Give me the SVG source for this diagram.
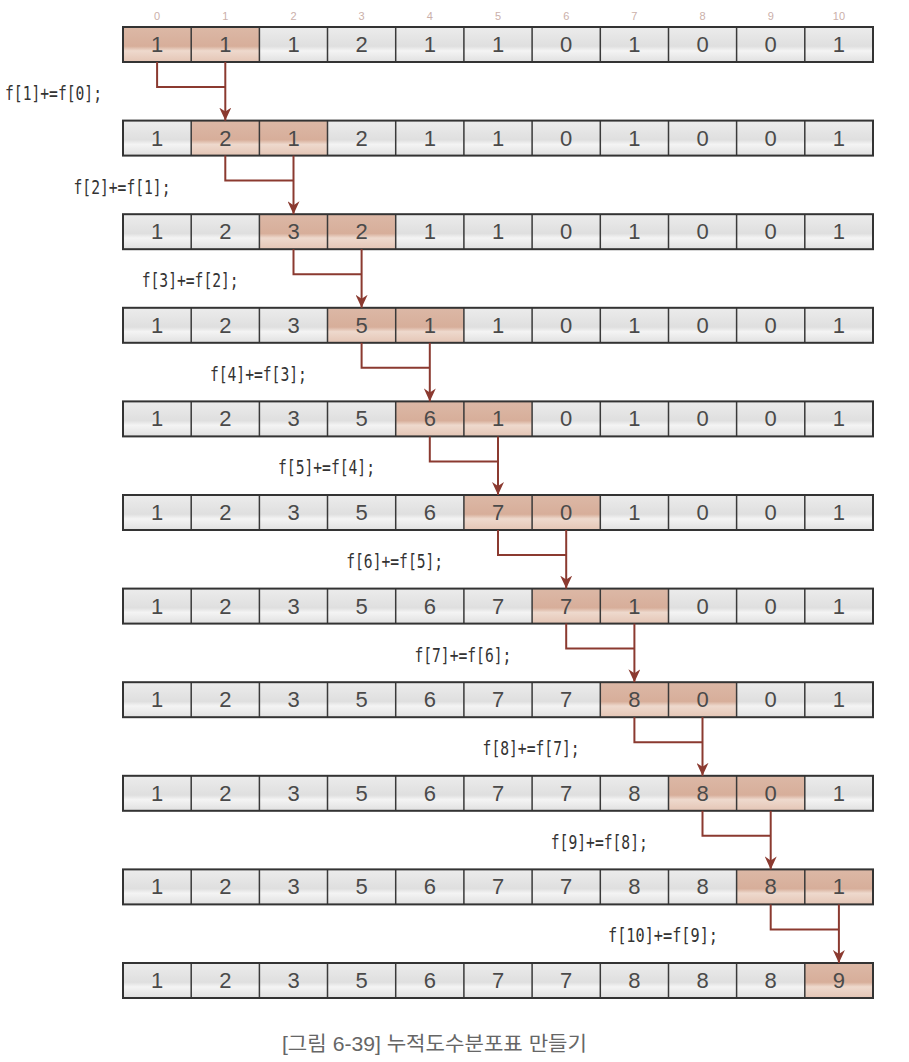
<svg xmlns="http://www.w3.org/2000/svg" width="909" height="1062" viewBox="0 0 909 1062">
<defs>
<linearGradient id="gG" x1="0" y1="0" x2="0" y2="1">
<stop offset="0" stop-color="#ececec"/><stop offset="0.55" stop-color="#dfdfdf"/><stop offset="0.68" stop-color="#f4f4f4"/><stop offset="1" stop-color="#e0e0e0"/>
</linearGradient>
<linearGradient id="gH" x1="0" y1="0" x2="0" y2="1">
<stop offset="0" stop-color="#dcb8a6"/><stop offset="0.55" stop-color="#d7ae9a"/><stop offset="0.68" stop-color="#eed9cd"/><stop offset="1" stop-color="#e4c5b5"/>
</linearGradient>
<marker id="ah" markerWidth="14" markerHeight="12" refX="13" refY="6" orient="auto" markerUnits="userSpaceOnUse" viewBox="0 0 14 12">
<path d="M0,0 L13,6 L0,12 L4,6 Z" fill="#8b3a30"/>
</marker>
</defs>
<style>
.g{fill:url(#gG)}
.h{fill:url(#gH)}
.fr{fill:none;stroke:#333;stroke-width:2}
.dv{stroke:#3a3a3a;stroke-width:1.5}
.n{font-family:"Liberation Sans",Arial,sans-serif;font-size:22px;fill:#4a4a4a;text-anchor:middle}
.ix{font-family:"Liberation Sans",Arial,sans-serif;font-size:11px;fill:#cbb0aa;text-anchor:middle}
.lb{font-family:"DejaVu Sans Mono","Liberation Mono",monospace;font-size:19px;fill:#333;text-anchor:end}
.cn{fill:none;stroke:#8b3a30;stroke-width:2}
.cap{font-family:"Liberation Sans","Noto Sans CJK KR",sans-serif;font-size:20px;fill:#666}
</style>
<g id="indices">
<text class="ix" x="157.1" y="20">0</text><text class="ix" x="225.3" y="20">1</text><text class="ix" x="293.5" y="20">2</text><text class="ix" x="361.6" y="20">3</text><text class="ix" x="429.8" y="20">4</text><text class="ix" x="498" y="20">5</text><text class="ix" x="566.2" y="20">6</text><text class="ix" x="634.4" y="20">7</text><text class="ix" x="702.5" y="20">8</text><text class="ix" x="770.7" y="20">9</text><text class="ix" x="838.9" y="20">10</text>
</g>
<g id="row0" transform="translate(0,27)">
<rect class="h" x="123" y="0" width="136.4" height="35"/><rect class="g" x="259.4" y="0" width="613.6" height="35"/>
<path class="dv" d="M191.2,0V35M259.4,0V35M327.5,0V35M395.7,0V35M463.9,0V35M532.1,0V35M600.3,0V35M668.5,0V35M736.6,0V35M804.8,0V35"/>
<rect class="fr" x="123" y="0" width="750" height="35"/>
<text class="n" x="157.1" y="25">1</text><text class="n" x="225.3" y="25">1</text><text class="n" x="293.5" y="25">1</text><text class="n" x="361.6" y="25">2</text><text class="n" x="429.8" y="25">1</text><text class="n" x="498" y="25">1</text><text class="n" x="566.2" y="25">0</text><text class="n" x="634.4" y="25">1</text><text class="n" x="702.5" y="25">0</text><text class="n" x="770.7" y="25">0</text><text class="n" x="838.9" y="25">1</text>
</g>
<g id="row1" transform="translate(0,120.6)">
<rect class="g" x="123" y="0" width="68.2" height="35"/><rect class="h" x="191.2" y="0" width="136.4" height="35"/><rect class="g" x="327.5" y="0" width="545.5" height="35"/>
<path class="dv" d="M191.2,0V35M259.4,0V35M327.5,0V35M395.7,0V35M463.9,0V35M532.1,0V35M600.3,0V35M668.5,0V35M736.6,0V35M804.8,0V35"/>
<rect class="fr" x="123" y="0" width="750" height="35"/>
<text class="n" x="157.1" y="25">1</text><text class="n" x="225.3" y="25">2</text><text class="n" x="293.5" y="25">1</text><text class="n" x="361.6" y="25">2</text><text class="n" x="429.8" y="25">1</text><text class="n" x="498" y="25">1</text><text class="n" x="566.2" y="25">0</text><text class="n" x="634.4" y="25">1</text><text class="n" x="702.5" y="25">0</text><text class="n" x="770.7" y="25">0</text><text class="n" x="838.9" y="25">1</text>
</g>
<g id="row2" transform="translate(0,214.2)">
<rect class="g" x="123" y="0" width="136.4" height="35"/><rect class="h" x="259.4" y="0" width="136.4" height="35"/><rect class="g" x="395.7" y="0" width="477.3" height="35"/>
<path class="dv" d="M191.2,0V35M259.4,0V35M327.5,0V35M395.7,0V35M463.9,0V35M532.1,0V35M600.3,0V35M668.5,0V35M736.6,0V35M804.8,0V35"/>
<rect class="fr" x="123" y="0" width="750" height="35"/>
<text class="n" x="157.1" y="25">1</text><text class="n" x="225.3" y="25">2</text><text class="n" x="293.5" y="25">3</text><text class="n" x="361.6" y="25">2</text><text class="n" x="429.8" y="25">1</text><text class="n" x="498" y="25">1</text><text class="n" x="566.2" y="25">0</text><text class="n" x="634.4" y="25">1</text><text class="n" x="702.5" y="25">0</text><text class="n" x="770.7" y="25">0</text><text class="n" x="838.9" y="25">1</text>
</g>
<g id="row3" transform="translate(0,307.8)">
<rect class="g" x="123" y="0" width="204.5" height="35"/><rect class="h" x="327.5" y="0" width="136.4" height="35"/><rect class="g" x="463.9" y="0" width="409.1" height="35"/>
<path class="dv" d="M191.2,0V35M259.4,0V35M327.5,0V35M395.7,0V35M463.9,0V35M532.1,0V35M600.3,0V35M668.5,0V35M736.6,0V35M804.8,0V35"/>
<rect class="fr" x="123" y="0" width="750" height="35"/>
<text class="n" x="157.1" y="25">1</text><text class="n" x="225.3" y="25">2</text><text class="n" x="293.5" y="25">3</text><text class="n" x="361.6" y="25">5</text><text class="n" x="429.8" y="25">1</text><text class="n" x="498" y="25">1</text><text class="n" x="566.2" y="25">0</text><text class="n" x="634.4" y="25">1</text><text class="n" x="702.5" y="25">0</text><text class="n" x="770.7" y="25">0</text><text class="n" x="838.9" y="25">1</text>
</g>
<g id="row4" transform="translate(0,401.4)">
<rect class="g" x="123" y="0" width="272.7" height="35"/><rect class="h" x="395.7" y="0" width="136.4" height="35"/><rect class="g" x="532.1" y="0" width="340.9" height="35"/>
<path class="dv" d="M191.2,0V35M259.4,0V35M327.5,0V35M395.7,0V35M463.9,0V35M532.1,0V35M600.3,0V35M668.5,0V35M736.6,0V35M804.8,0V35"/>
<rect class="fr" x="123" y="0" width="750" height="35"/>
<text class="n" x="157.1" y="25">1</text><text class="n" x="225.3" y="25">2</text><text class="n" x="293.5" y="25">3</text><text class="n" x="361.6" y="25">5</text><text class="n" x="429.8" y="25">6</text><text class="n" x="498" y="25">1</text><text class="n" x="566.2" y="25">0</text><text class="n" x="634.4" y="25">1</text><text class="n" x="702.5" y="25">0</text><text class="n" x="770.7" y="25">0</text><text class="n" x="838.9" y="25">1</text>
</g>
<g id="row5" transform="translate(0,495)">
<rect class="g" x="123" y="0" width="340.9" height="35"/><rect class="h" x="463.9" y="0" width="136.4" height="35"/><rect class="g" x="600.3" y="0" width="272.7" height="35"/>
<path class="dv" d="M191.2,0V35M259.4,0V35M327.5,0V35M395.7,0V35M463.9,0V35M532.1,0V35M600.3,0V35M668.5,0V35M736.6,0V35M804.8,0V35"/>
<rect class="fr" x="123" y="0" width="750" height="35"/>
<text class="n" x="157.1" y="25">1</text><text class="n" x="225.3" y="25">2</text><text class="n" x="293.5" y="25">3</text><text class="n" x="361.6" y="25">5</text><text class="n" x="429.8" y="25">6</text><text class="n" x="498" y="25">7</text><text class="n" x="566.2" y="25">0</text><text class="n" x="634.4" y="25">1</text><text class="n" x="702.5" y="25">0</text><text class="n" x="770.7" y="25">0</text><text class="n" x="838.9" y="25">1</text>
</g>
<g id="row6" transform="translate(0,588.6)">
<rect class="g" x="123" y="0" width="409.1" height="35"/><rect class="h" x="532.1" y="0" width="136.4" height="35"/><rect class="g" x="668.5" y="0" width="204.5" height="35"/>
<path class="dv" d="M191.2,0V35M259.4,0V35M327.5,0V35M395.7,0V35M463.9,0V35M532.1,0V35M600.3,0V35M668.5,0V35M736.6,0V35M804.8,0V35"/>
<rect class="fr" x="123" y="0" width="750" height="35"/>
<text class="n" x="157.1" y="25">1</text><text class="n" x="225.3" y="25">2</text><text class="n" x="293.5" y="25">3</text><text class="n" x="361.6" y="25">5</text><text class="n" x="429.8" y="25">6</text><text class="n" x="498" y="25">7</text><text class="n" x="566.2" y="25">7</text><text class="n" x="634.4" y="25">1</text><text class="n" x="702.5" y="25">0</text><text class="n" x="770.7" y="25">0</text><text class="n" x="838.9" y="25">1</text>
</g>
<g id="row7" transform="translate(0,682.2)">
<rect class="g" x="123" y="0" width="477.3" height="35"/><rect class="h" x="600.3" y="0" width="136.4" height="35"/><rect class="g" x="736.6" y="0" width="136.4" height="35"/>
<path class="dv" d="M191.2,0V35M259.4,0V35M327.5,0V35M395.7,0V35M463.9,0V35M532.1,0V35M600.3,0V35M668.5,0V35M736.6,0V35M804.8,0V35"/>
<rect class="fr" x="123" y="0" width="750" height="35"/>
<text class="n" x="157.1" y="25">1</text><text class="n" x="225.3" y="25">2</text><text class="n" x="293.5" y="25">3</text><text class="n" x="361.6" y="25">5</text><text class="n" x="429.8" y="25">6</text><text class="n" x="498" y="25">7</text><text class="n" x="566.2" y="25">7</text><text class="n" x="634.4" y="25">8</text><text class="n" x="702.5" y="25">0</text><text class="n" x="770.7" y="25">0</text><text class="n" x="838.9" y="25">1</text>
</g>
<g id="row8" transform="translate(0,775.8)">
<rect class="g" x="123" y="0" width="545.5" height="35"/><rect class="h" x="668.5" y="0" width="136.4" height="35"/><rect class="g" x="804.8" y="0" width="68.2" height="35"/>
<path class="dv" d="M191.2,0V35M259.4,0V35M327.5,0V35M395.7,0V35M463.9,0V35M532.1,0V35M600.3,0V35M668.5,0V35M736.6,0V35M804.8,0V35"/>
<rect class="fr" x="123" y="0" width="750" height="35"/>
<text class="n" x="157.1" y="25">1</text><text class="n" x="225.3" y="25">2</text><text class="n" x="293.5" y="25">3</text><text class="n" x="361.6" y="25">5</text><text class="n" x="429.8" y="25">6</text><text class="n" x="498" y="25">7</text><text class="n" x="566.2" y="25">7</text><text class="n" x="634.4" y="25">8</text><text class="n" x="702.5" y="25">8</text><text class="n" x="770.7" y="25">0</text><text class="n" x="838.9" y="25">1</text>
</g>
<g id="row9" transform="translate(0,869.4)">
<rect class="g" x="123" y="0" width="613.6" height="35"/><rect class="h" x="736.6" y="0" width="136.4" height="35"/>
<path class="dv" d="M191.2,0V35M259.4,0V35M327.5,0V35M395.7,0V35M463.9,0V35M532.1,0V35M600.3,0V35M668.5,0V35M736.6,0V35M804.8,0V35"/>
<rect class="fr" x="123" y="0" width="750" height="35"/>
<text class="n" x="157.1" y="25">1</text><text class="n" x="225.3" y="25">2</text><text class="n" x="293.5" y="25">3</text><text class="n" x="361.6" y="25">5</text><text class="n" x="429.8" y="25">6</text><text class="n" x="498" y="25">7</text><text class="n" x="566.2" y="25">7</text><text class="n" x="634.4" y="25">8</text><text class="n" x="702.5" y="25">8</text><text class="n" x="770.7" y="25">8</text><text class="n" x="838.9" y="25">1</text>
</g>
<g id="row10" transform="translate(0,963)">
<rect class="g" x="123" y="0" width="681.8" height="35"/><rect class="h" x="804.8" y="0" width="68.2" height="35"/>
<path class="dv" d="M191.2,0V35M259.4,0V35M327.5,0V35M395.7,0V35M463.9,0V35M532.1,0V35M600.3,0V35M668.5,0V35M736.6,0V35M804.8,0V35"/>
<rect class="fr" x="123" y="0" width="750" height="35"/>
<text class="n" x="157.1" y="25">1</text><text class="n" x="225.3" y="25">2</text><text class="n" x="293.5" y="25">3</text><text class="n" x="361.6" y="25">5</text><text class="n" x="429.8" y="25">6</text><text class="n" x="498" y="25">7</text><text class="n" x="566.2" y="25">7</text><text class="n" x="634.4" y="25">8</text><text class="n" x="702.5" y="25">8</text><text class="n" x="770.7" y="25">8</text><text class="n" x="838.9" y="25">9</text>
</g>
<g id="connectors">
<path class="cn" d="M157.1,62V87H225.3"/><path class="cn" d="M225.3,62V120.6" marker-end="url(#ah)"/>
<path class="cn" d="M225.3,155.6V180.6H293.5"/><path class="cn" d="M293.5,155.6V214.2" marker-end="url(#ah)"/>
<path class="cn" d="M293.5,249.2V274.2H361.6"/><path class="cn" d="M361.6,249.2V307.8" marker-end="url(#ah)"/>
<path class="cn" d="M361.6,342.8V367.8H429.8"/><path class="cn" d="M429.8,342.8V401.4" marker-end="url(#ah)"/>
<path class="cn" d="M429.8,436.4V461.4H498"/><path class="cn" d="M498,436.4V495" marker-end="url(#ah)"/>
<path class="cn" d="M498,530V555H566.2"/><path class="cn" d="M566.2,530V588.6" marker-end="url(#ah)"/>
<path class="cn" d="M566.2,623.6V648.6H634.4"/><path class="cn" d="M634.4,623.6V682.2" marker-end="url(#ah)"/>
<path class="cn" d="M634.4,717.2V742.2H702.5"/><path class="cn" d="M702.5,717.2V775.8" marker-end="url(#ah)"/>
<path class="cn" d="M702.5,810.8V835.8H770.7"/><path class="cn" d="M770.7,810.8V869.4" marker-end="url(#ah)"/>
<path class="cn" d="M770.7,904.4V929.4H838.9"/><path class="cn" d="M838.9,904.4V963" marker-end="url(#ah)"/>
</g>
<g id="labels">
<text class="lb" x="102" y="100" textLength="97" lengthAdjust="spacingAndGlyphs">f[1]+=f[0];</text>
<text class="lb" x="170.5" y="193.6" textLength="97" lengthAdjust="spacingAndGlyphs">f[2]+=f[1];</text>
<text class="lb" x="238.7" y="287.2" textLength="97" lengthAdjust="spacingAndGlyphs">f[3]+=f[2];</text>
<text class="lb" x="306.9" y="380.8" textLength="97" lengthAdjust="spacingAndGlyphs">f[4]+=f[3];</text>
<text class="lb" x="375" y="474.4" textLength="97" lengthAdjust="spacingAndGlyphs">f[5]+=f[4];</text>
<text class="lb" x="443.2" y="568" textLength="97" lengthAdjust="spacingAndGlyphs">f[6]+=f[5];</text>
<text class="lb" x="511.4" y="661.6" textLength="97" lengthAdjust="spacingAndGlyphs">f[7]+=f[6];</text>
<text class="lb" x="579.6" y="755.2" textLength="97" lengthAdjust="spacingAndGlyphs">f[8]+=f[7];</text>
<text class="lb" x="647.8" y="848.8" textLength="97" lengthAdjust="spacingAndGlyphs">f[9]+=f[8];</text>
<text class="lb" x="718" y="942.4" textLength="110" lengthAdjust="spacingAndGlyphs">f[10]+=f[9];</text>
</g>
<g id="caption">
<text class="cap" x="282" y="1051" textLength="305" lengthAdjust="spacingAndGlyphs">[그림 6-39] 누적도수분포표 만들기</text>
</g>
</svg>
